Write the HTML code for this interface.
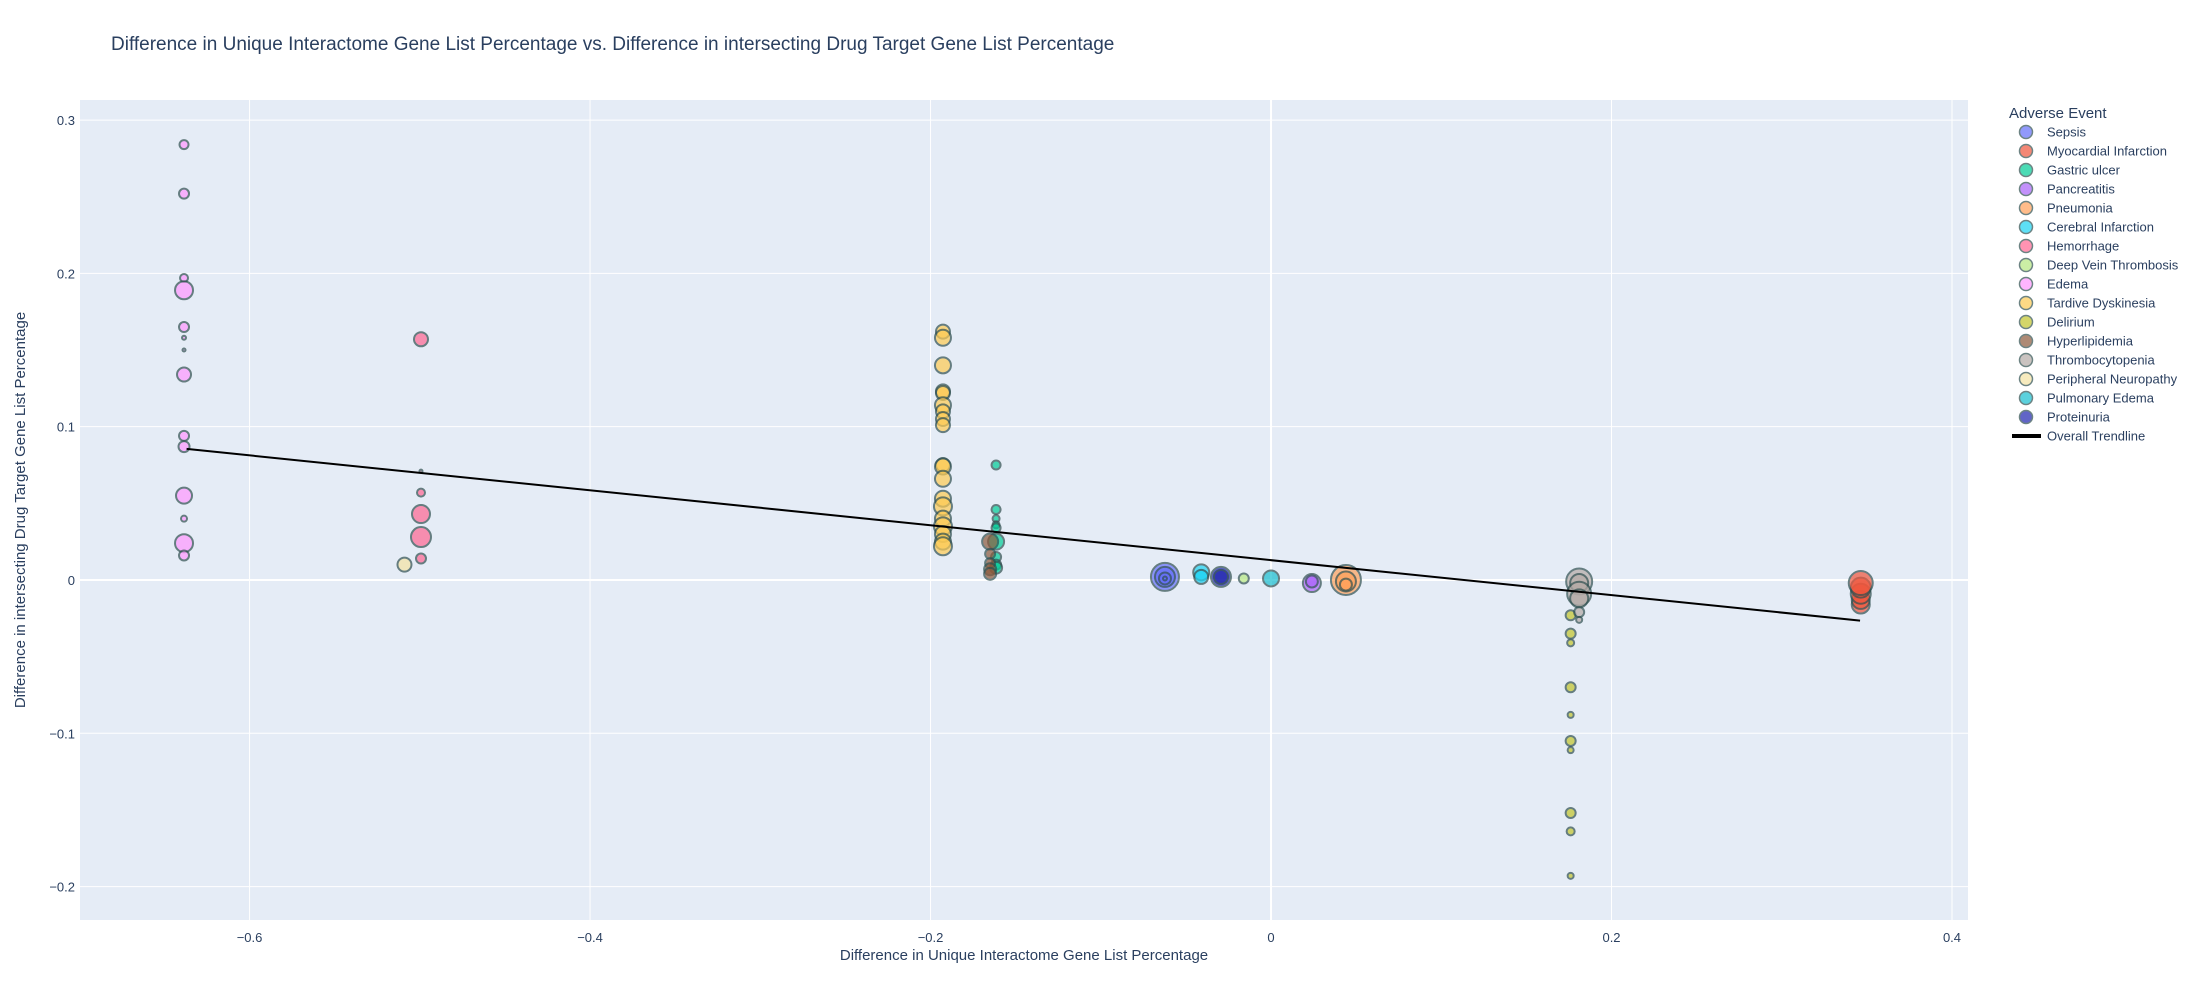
<!DOCTYPE html>
<html><head><meta charset="utf-8">
<style>
html,body{margin:0;padding:0;background:#fff;}
svg{display:block;font-family:"Liberation Sans",sans-serif;}
</style></head>
<body>
<svg id="chart" width="2200" height="1000" xmlns="http://www.w3.org/2000/svg">
<rect x="0" y="0" width="2200" height="1000" fill="#fff"/>
<text x="111" y="50" font-size="19" fill="#2a3f5f">Difference in Unique Interactome Gene List Percentage vs. Difference in intersecting Drug Target Gene List Percentage</text>
<rect x="80" y="100" width="1888" height="820" fill="#e5ecf6"/>
<g id="grid"></g>
<g id="marks"></g>
<g id="ticks"></g>
<text x="1024" y="960" font-size="15" fill="#2a3f5f" text-anchor="middle">Difference in Unique Interactome Gene List Percentage</text>
<text x="0" y="0" font-size="15" fill="#2a3f5f" text-anchor="middle" transform="translate(25,510) rotate(-90)">Difference in intersecting Drug Target Gene List Percentage</text>
<g id="legend"></g>
</svg>
<script>
const xTicks = [-0.6, -0.4, -0.2, 0, 0.2, 0.4];
const xTickLabels = ["\u22120.6", "\u22120.4", "\u22120.2", "0", "0.2", "0.4"];
const yTicks = [0.3, 0.2, 0.1, 0, -0.1, -0.2];
const yTickLabels = ["0.3", "0.2", "0.1", "0", "\u22120.1", "\u22120.2"];
const seriesNames = ["Sepsis","Myocardial Infarction","Gastric ulcer","Pancreatitis","Pneumonia","Cerebral Infarction","Hemorrhage","Deep Vein Thrombosis","Edema","Tardive Dyskinesia","Delirium","Hyperlipidemia","Thrombocytopenia","Peripheral Neuropathy","Pulmonary Edema","Proteinuria"];
const seriesColors = ["#636efa","#EF553B","#00cc96","#ab63fa","#FFA15A","#19d3f3","#FF6692","#B6E880","#FF97FF","#FECB52","#c2c52a","#8c5a3c","#b4aaa6","#f5e3a3","#17becf","#1f24b0"];
const sepsisX = [-0.0623,-0.0623,-0.0623,-0.0623];
const sepsisY = [0.002,0.002,0.001,0.001];
const sepsisS = [28,20,12,4];
const miX = [0.3464,0.3464,0.3464,0.3464,0.3464];
const miY = [-0.016,-0.013,-0.009,-0.005,-0.002];
const miS = [18,18,20,20,24];
const gastricX = [-0.1615,-0.1615,-0.1615,-0.1615,-0.1615,-0.1615,-0.1615,-0.1615,-0.1615];
const gastricY = [0.075,0.046,0.040,0.036,0.034,0.025,0.015,0.010,0.008];
const gastricS = [9,9,7,7,9,16,10,10,12];
const pancX = [0.024,0.024];
const pancY = [-0.002,-0.001];
const pancS = [18,12];
const pneuX = [0.044,0.044,0.044];
const pneuY = [0.000,-0.001,-0.003];
const pneuS = [30,20,12];
const cerebX = [-0.041,-0.041];
const cerebY = [0.005,0.002];
const cerebS = [16,14];
const hemX = [-0.4993,-0.4993,-0.4993,-0.4993,-0.4993,-0.4993];
const hemY = [0.157,0.071,0.057,0.043,0.028,0.014];
const hemS = [14,3,8,18,20,10];
const dvtX = [-0.016];
const dvtY = [0.001];
const dvtS = [10];
const edemaX = [-0.6385,-0.6385,-0.6385,-0.6385,-0.6385,-0.6385,-0.6385,-0.6385,-0.6385,-0.6385,-0.6385,-0.6385,-0.6385,-0.6385];
const edemaY = [0.284,0.252,0.197,0.189,0.165,0.158,0.150,0.134,0.094,0.087,0.055,0.040,0.024,0.016];
const edemaS = [9,10,8,18,10,4,3,14,10,11,16,6,18,10];
const tardX = Array(19).fill(-0.1927);
const tardY = [0.162,0.158,0.140,0.123,0.122,0.114,0.110,0.105,0.101,0.075,0.074,0.066,0.053,0.048,0.040,0.035,0.030,0.025,0.022];
const tardS = [14,16,16,14,14,16,14,14,14,14,16,16,16,18,16,18,16,16,18];
const delX = Array(10).fill(0.176);
const delY = [-0.023,-0.035,-0.041,-0.070,-0.088,-0.105,-0.111,-0.152,-0.164,-0.193];
const delS = [10,10,7,10,6,10,6,10,8,6];
const hypX = [-0.165,-0.165,-0.165,-0.165,-0.165];
const hypY = [0.025,0.017,0.011,0.007,0.004];
const hypS = [16,10,10,12,12];
const thrX = [0.181,0.181,0.181,0.181,0.181,0.181];
const thrY = [-0.001,-0.002,-0.009,-0.012,-0.021,-0.026];
const thrS = [26,18,24,18,10,6];
const perX = [-0.509];
const perY = [0.010];
const perS = [14];
const pulX = [0.0];
const pulY = [0.001];
const pulS = [16];
const protX = [-0.0294,-0.0294];
const protY = [0.002,0.002];
const protS = [20,14];
const trendX = [-0.637, 0.346];
const trendY = [0.0855, -0.0265];

const seriesData = [[sepsisX,sepsisY,sepsisS],[miX,miY,miS],[gastricX,gastricY,gastricS],[pancX,pancY,pancS],[pneuX,pneuY,pneuS],[cerebX,cerebY,cerebS],[hemX,hemY,hemS],[dvtX,dvtY,dvtS],[edemaX,edemaY,edemaS],[tardX,tardY,tardS],[delX,delY,delS],[hypX,hypY,hypS],[thrX,thrY,thrS],[perX,perY,perS],[pulX,pulY,pulS],[protX,protY,protS]];

const NS = "http://www.w3.org/2000/svg";
const PL = 80, PR = 1968, PT = 100, PB = 920;
const XMIN = -0.6996, XMAX = 0.4094, YMIN = -0.2218, YMAX = 0.3131;
function sx(v){ return PL + (v - XMIN) / (XMAX - XMIN) * (PR - PL); }
function sy(v){ return PB - (v - YMIN) / (YMAX - YMIN) * (PB - PT); }
function mk(tag, attrs, parent){ const e = document.createElementNS(NS, tag); for (const k in attrs) e.setAttribute(k, attrs[k]); parent.appendChild(e); return e; }

const grid = document.getElementById('grid');
const ticks = document.getElementById('ticks');
xTicks.forEach((t, i) => {
  const l = mk('line', {x1: sx(t), x2: sx(t), y1: PT, y2: PB, stroke: '#fff', 'stroke-width': t === 0 ? 2 : 1}, grid);
  
  
  const tx = mk('text', {x: sx(t), y: PB + 22, 'font-size': 13, fill: '#2a3f5f', 'text-anchor': 'middle'}, ticks);
  tx.textContent = xTickLabels[i];
  
  
});
yTicks.forEach((t, i) => {
  const l = mk('line', {x1: PL, x2: PR, y1: sy(t), y2: sy(t), stroke: '#fff', 'stroke-width': t === 0 ? 2 : 1}, grid);
  
  
  const tx = mk('text', {x: PL - 5, y: sy(t) + 5, 'font-size': 13, fill: '#2a3f5f', 'text-anchor': 'end'}, ticks);
  tx.textContent = yTickLabels[i];
  
  
});

const marks = document.getElementById('marks');
seriesData.forEach((d, si) => {
  const g = mk('g', {}, marks);
  
  
  const [xs, ys, ss] = d;
  xs.forEach((xv, i) => {
    const c = mk('circle', {cx: sx(xv), cy: sy(ys[i]), r: ss[i] / 2, fill: seriesColors[si], stroke: '#2f4f4f', 'stroke-width': 2, opacity: 0.7}, g);
    
    
  });
});
const tl = mk('line', {x1: sx(trendX[0]), y1: sy(trendY[0]), x2: sx(trendX[1]), y2: sy(trendY[1]), stroke: '#000', 'stroke-width': 2}, marks);



const legend = document.getElementById('legend');
const lt = mk('text', {x: 2009, y: 118, 'font-size': 15, fill: '#2a3f5f'}, legend);
lt.textContent = 'Adverse Event';


seriesNames.forEach((n, i) => {
  const y = 132 + i * 19;
  const g = mk('g', {}, legend);
  
  
  mk('circle', {cx: 2026, cy: y, r: 6.5, fill: seriesColors[i], stroke: '#2f4f4f', 'stroke-width': 1.5, opacity: 0.7}, g);
  const t = mk('text', {x: 2047, y: y + 4.5, 'font-size': 13, fill: '#2a3f5f'}, g);
  t.textContent = n;
});
const ty = 132 + 16 * 19;
const tg = mk('g', {}, legend);


mk('line', {x1: 2012, x2: 2041, y1: ty, y2: ty, stroke: '#000', 'stroke-width': 4}, tg);
const tt = mk('text', {x: 2047, y: ty + 4.5, 'font-size': 13, fill: '#2a3f5f'}, tg);
tt.textContent = 'Overall Trendline';
</script>
</body></html>
